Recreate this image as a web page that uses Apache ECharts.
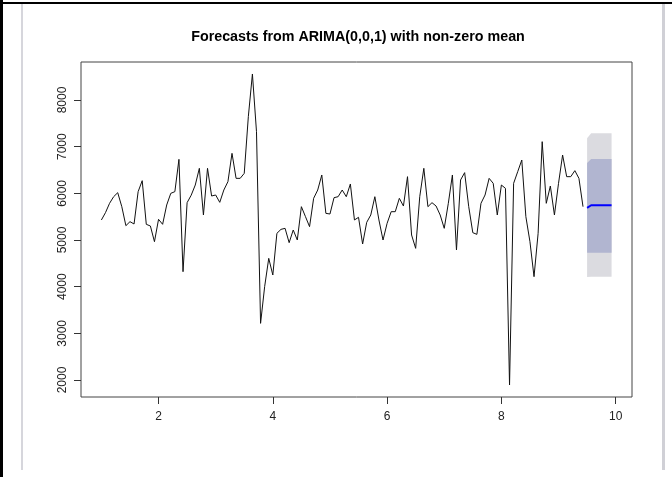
<!DOCTYPE html>
<html><head><meta charset="utf-8">
<script src="https://cdn.jsdelivr.net/npm/echarts@6/dist/echarts.min.js"></script>
<style>html,body{margin:0;padding:0;background:#fff}#c{width:672px;height:477px}</style>
</head><body><div id="c"></div>
<script>
const chartTitle = 'Forecasts from ARIMA(0,0,1) with non-zero mean';
const frequency = 14;
const startTime = 1;
const observed = [
  5429, 5586, 5786, 5928, 6014, 5714, 5307, 5393, 5343, 6036,
  6271, 5336, 5300, 4964, 5443, 5336, 5750, 6000, 6036, 6728,
  4321, 5800, 5960, 6178, 6536, 5536, 6536, 5943, 5964, 5807,
  6071, 6250, 6857, 6321, 6321, 6428, 7643, 8557, 7321, 3214,
  4000, 4607, 4250, 5143, 5228, 5250, 4943, 5214, 5000, 5714,
  5500, 5286, 5893, 6071, 6393, 5571, 5557, 5907, 5928, 6071,
  5928, 6200, 5429, 5486, 4914, 5378, 5536, 5928, 5429, 5000,
  5357, 5607, 5607, 5893, 5728, 6357, 5107, 4821, 5928, 6536,
  5714, 5800, 5728, 5536, 5250, 5786, 6393, 4786, 6286, 6443,
  5714, 5157, 5121, 5786, 5964, 6321, 6214, 5536, 6178, 6107,
  1893, 6214, 6464, 6714, 5500, 4964, 4214, 5143, 7107, 5786,
  6157, 5536, 6214, 6821, 6357, 6357, 6486, 6321, 5714
];
const forecastMean = [5690, 5745, 5745, 5745, 5745, 5745, 5745];
const lower80 = [4725, 4728, 4728, 4728, 4728, 4728, 4728];
const upper80 = [6650, 6736, 6736, 6736, 6736, 6736, 6736];
const lower95 = [4205, 4214, 4214, 4214, 4214, 4214, 4214];
const upper95 = [7180, 7286, 7286, 7286, 7286, 7286, 7286];
const xTicks = [2, 4, 6, 8, 10];
const yTicks = [2000, 3000, 4000, 5000, 6000, 7000, 8000];

const obsData = observed.map((v, i) => [startTime + i / frequency, v]);
const fcTimes = forecastMean.map((v, k) => startTime + (observed.length + k) / frequency);
const fcData = forecastMean.map((v, k) => [fcTimes[k], v]);

function band(lower, upper, color, z) {
  return {
    type: 'custom', coordinateSystem: 'cartesian2d', z: z, silent: true,
    data: [[fcTimes[0], lower[0]]],
    renderItem: function (params, api) {
      const pts = [];
      for (let k = 0; k < fcTimes.length; k++) pts.push(api.coord([fcTimes[k], upper[k]]));
      for (let k = fcTimes.length - 1; k >= 0; k--) pts.push(api.coord([fcTimes[k], lower[k]]));
      return { type: 'polygon', shape: { points: pts }, style: { fill: color } };
    }
  };
}

const chart = echarts.init(document.getElementById('c'), null, { renderer: 'canvas' });
chart.setOption({
  animation: false,
  backgroundColor: '#fff',
  title: {
    text: chartTitle, left: 353, top: 25, textAlign: 'center',
    textStyle: { fontFamily: 'Liberation Sans, Arial, sans-serif', fontSize: 14.3, fontWeight: 'bold', color: '#000' }
  },
  graphic: [
    { type: 'rect', shape: { x: 0, y: 0, width: 3, height: 477 }, style: { fill: '#000' } },
    { type: 'rect', shape: { x: 0, y: 2, width: 672, height: 2 }, style: { fill: '#000' } },
    { type: 'rect', shape: { x: 21, y: 4, width: 2, height: 466 }, style: { fill: '#d6d6dc' } },
    { type: 'rect', shape: { x: 662, y: 4, width: 3, height: 466 }, style: { fill: '#d0d0d6' } }
  ],
  grid: { left: 81, right: 40, top: 62, bottom: 80, show: true, borderColor: '#444', borderWidth: 1, backgroundColor: 'transparent' },
  xAxis: {
    type: 'value', min: 0.643, max: 10.286,
    axisLine: { show: false },
    splitLine: { show: false },
    axisTick: { show: true, inside: false, length: 7, lineStyle: { color: '#333' }, customValues: xTicks },
    axisLabel: { customValues: xTicks, margin: 14, fontSize: 12, color: '#222', fontFamily: 'Liberation Sans, Arial, sans-serif', formatter: v => String(v) }
  },
  yAxis: {
    type: 'value', min: 1636, max: 8814,
    axisLine: { show: false },
    splitLine: { show: false },
    axisTick: { show: true, inside: false, length: 7, lineStyle: { color: '#333' }, customValues: yTicks },
    axisLabel: { customValues: yTicks, rotate: 90, margin: 12, fontSize: 12, color: '#222', fontFamily: 'Liberation Sans, Arial, sans-serif', formatter: v => String(v) }
  },
  series: [
    band(lower95, upper95, '#dbdbe0', 1),
    band(lower80, upper80, '#b1b5d0', 2),
    {
      type: 'line', data: obsData, showSymbol: false, z: 3,
      lineStyle: { color: '#111', width: 1 }
    },
    {
      type: 'line', data: fcData, showSymbol: false, z: 4,
      lineStyle: { color: '#0000ff', width: 2 }
    }
  ]
});
</script>
</body></html>
